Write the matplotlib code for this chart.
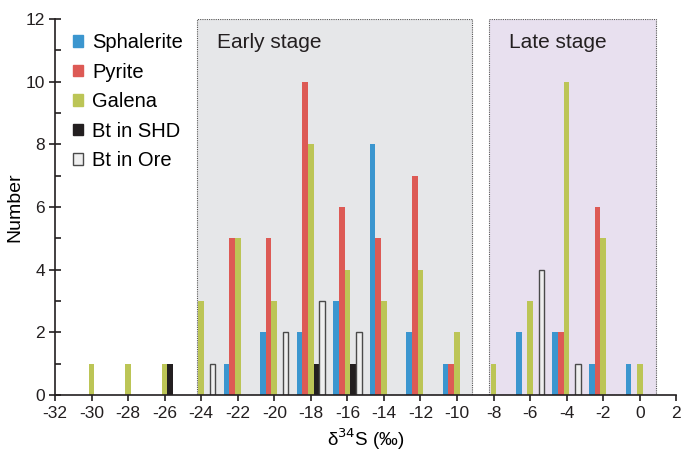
import numpy as np
import matplotlib.pyplot as plt
from matplotlib.patches import Patch, Rectangle
from matplotlib.ticker import MultipleLocator

plt.rc('font', family=['Liberation Sans', 'DejaVu Sans'])
plt.rc('axes', unicode_minus=False)

# Isotope bins (per mil) and counts for each mineral group
BINS = [-30, -28, -26, -24, -22, -20, -18, -16, -14, -12, -10, -8, -6, -4, -2, 0]
SPHALERITE = [0, 0, 0, 0, 1, 2, 2, 3, 8, 2, 1, 0, 2, 2, 1, 1]
PYRITE = [0, 0, 0, 0, 5, 5, 10, 6, 5, 7, 1, 0, 0, 2, 6, 0]
GALENA = [1, 1, 1, 3, 5, 3, 8, 4, 3, 4, 2, 1, 3, 10, 5, 1]
BT_SHD = [0, 0, 1, 0, 0, 0, 1, 1, 0, 0, 0, 0, 0, 0, 0, 0]
BT_ORE = [0, 0, 0, 1, 0, 2, 3, 2, 0, 0, 0, 0, 4, 1, 0, 0]

SERIES_LABELS = ["Sphalerite", "Pyrite", "Galena", "Bt in SHD", "Bt in Ore"]
STAGE_LABELS = ["Early stage", "Late stage"]
STAGE_SPANS = [(-24.25, -9.17), (-8.27, 0.89)]

BAR_WIDTH = 0.31
FACE_COLORS = ["#3b96cf", "#dd5a55", "#bcc556", "#231f20", "#efefef"]
EDGE_COLORS = ["none", "none", "none", "none", "#4a4a4a"]
STAGE_COLORS = ["#e6e7e9", "#e8e0ef"]

fig = plt.figure(figsize=(6.82, 4.51), dpi=100)
ax = fig.add_axes([0.0806, 0.124, 0.911, 0.834])

# Shaded stage boxes with dotted outline
for (x0, x1), c, lbl in zip(STAGE_SPANS, STAGE_COLORS, STAGE_LABELS):
    ax.add_patch(Rectangle((x0, 0), x1 - x0, 12, facecolor=c, edgecolor="#555555",
                           linestyle=(0, (1, 1)), linewidth=0.8, zorder=0))
    ax.text(x0 + 1.1, 11.24, lbl, fontsize=15, color="#231f20", va="center", ha="left")

# Clustered bars, galena centred on the bin
bins = np.array(BINS, dtype=float)
all_series = [SPHALERITE, PYRITE, GALENA, BT_SHD, BT_ORE]
for i, (vals, fc, ec) in enumerate(zip(all_series, FACE_COLORS, EDGE_COLORS)):
    vals = np.array(vals)
    keep = vals > 0
    offset = (i - 2) * BAR_WIDTH
    ax.bar(bins[keep] + offset, vals[keep], width=BAR_WIDTH, color=fc,
           edgecolor=ec, linewidth=1.0 if ec != "none" else 0, zorder=2)

ax.set_xlim(-32, 2)
ax.set_ylim(0, 12)
ax.xaxis.set_major_locator(MultipleLocator(2))
ax.yaxis.set_major_locator(MultipleLocator(2))
ax.yaxis.set_minor_locator(MultipleLocator(1))

for side in ("top", "right"):
    ax.spines[side].set_visible(False)
for side in ("left", "bottom"):
    ax.spines[side].set_linewidth(1.2)
    ax.spines[side].set_color("#231f20")
    ax.spines[side].set_zorder(3)

ax.tick_params(axis="x", direction="out", length=4, width=1.2, labelsize=12.5, pad=4, colors="#231f20")
ax.tick_params(axis="y", which="major", direction="inout", length=8, width=1.2, labelsize=12.5, pad=3, colors="#231f20")
ax.tick_params(axis="y", which="minor", direction="in", length=4, width=1.2, colors="#231f20")

ax.set_ylabel("Number", fontsize=14, labelpad=2)
ax.set_xlabel(r"δ$^{34}$S (‰)", fontsize=13.5, labelpad=4)

handles = [Patch(facecolor=fc, edgecolor=(ec if ec != "none" else fc), linewidth=1.0)
           for fc, ec in zip(FACE_COLORS, EDGE_COLORS)]
ax.legend(handles, SERIES_LABELS, loc="upper left", bbox_to_anchor=(0.0, 1.01),
          frameon=False, fontsize=14.5, handlelength=0.5, handleheight=0.5,
          handletextpad=0.45, labelspacing=0.52, borderaxespad=0.5)

fig.savefig("out.png", dpi=100)
